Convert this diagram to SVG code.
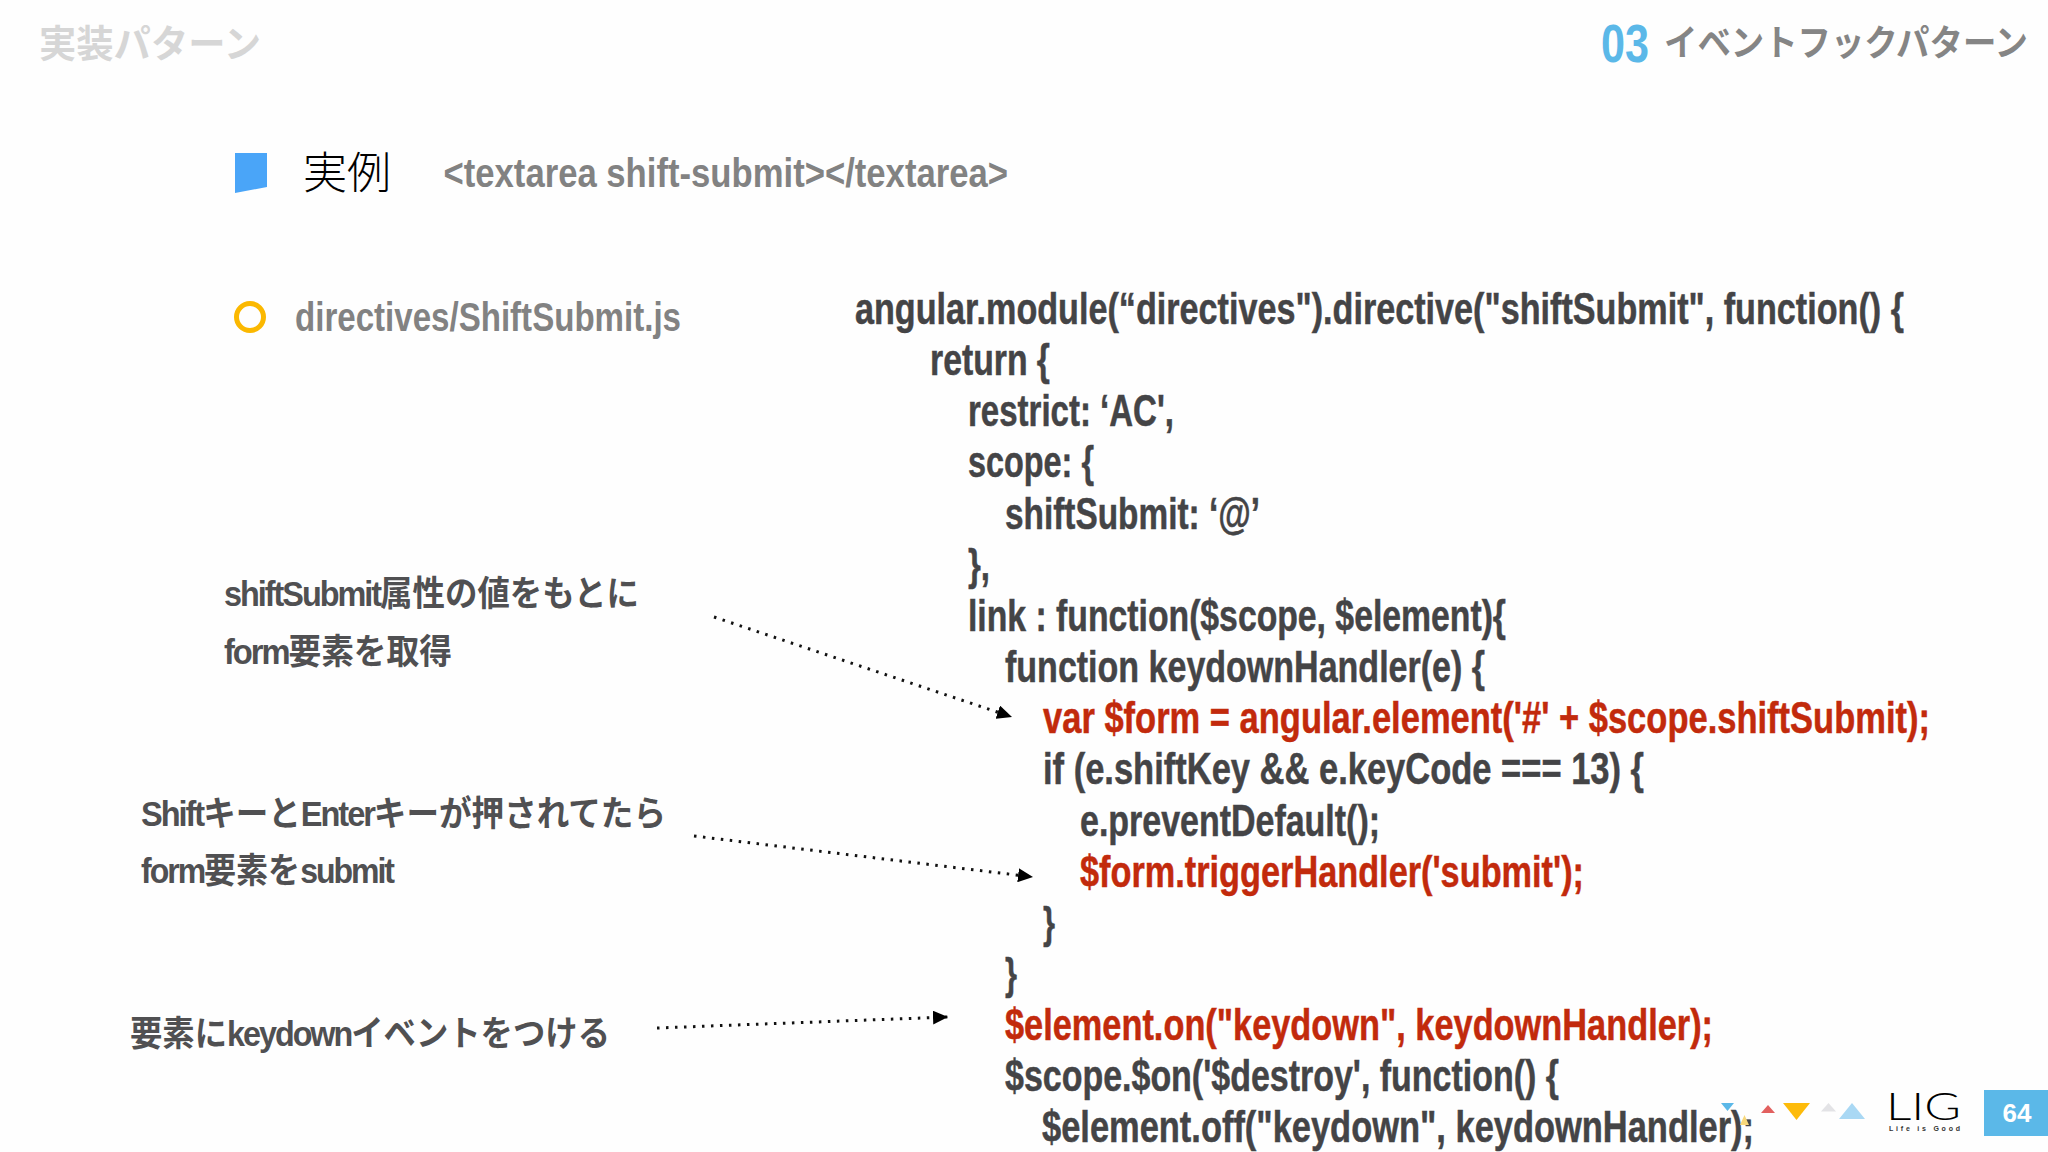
<svg xmlns="http://www.w3.org/2000/svg" width="2048" height="1152" viewBox="0 0 2048 1152">
<style>
text{font-family:"Liberation Sans","Noto Sans CJK JP",sans-serif;}
.code{font-size:45px;font-weight:700;fill:#444446;stroke:#444446;stroke-width:.5px;}
.red{fill:#c22a0c;stroke:#c22a0c;}
.lab{font-size:35px;font-weight:700;fill:#505052;}
.lat{letter-spacing:-2.2px;}
.sub{font-size:40px;font-weight:700;fill:#828282;}
.conn{fill:none;stroke:#111;stroke-width:3;stroke-dasharray:2.5 6.500;}
</style>
<defs>
<marker id="ah" markerUnits="userSpaceOnUse" markerWidth="16" markerHeight="14" refX="15" refY="7" orient="auto"><path d="M0 0L15 7L0 14Z" fill="#000"/></marker>
</defs>
<rect width="2048" height="1152" fill="#fefefe"/>
<g id="header">
<text x="39" y="57" font-size="38" font-weight="700" fill="#d6d6d6" textLength="222" lengthAdjust="spacingAndGlyphs">実装パターン</text>
<text x="1601" y="62" font-size="53" font-weight="700" fill="#5bb8e8" textLength="48" lengthAdjust="spacingAndGlyphs">03</text>
<text x="1664" y="56" font-size="36" font-weight="700" fill="#858585" textLength="364" lengthAdjust="spacingAndGlyphs" style="font-family:'Noto Sans CJK JP',sans-serif">イベントフックパターン</text>
</g>
<g id="heading">
<path d="M235 153H267V187L235 193Z" fill="#4aa5f8"/>
<text x="303" y="189" font-size="44" font-weight="300" fill="#000" style="font-family:'Noto Sans CJK JP',sans-serif">実例</text>
<text x="443.500" y="187" class="sub" textLength="564.500" lengthAdjust="spacingAndGlyphs">&lt;textarea shift-submit&gt;&lt;/textarea&gt;</text>
</g>
<g id="file">
<circle cx="250" cy="317" r="13.500" fill="none" stroke="#fbb800" stroke-width="5"/>
<text x="295" y="331" class="sub" textLength="386" lengthAdjust="spacingAndGlyphs">directives/ShiftSubmit.js</text>
</g>
<g id="code">
<text x="855" y="324" class="code" textLength="1049" lengthAdjust="spacingAndGlyphs">angular.module(“directives").directive("shiftSubmit", function() {</text>
<text x="930" y="375" class="code" textLength="120" lengthAdjust="spacingAndGlyphs">return {</text>
<text x="968" y="426" class="code" textLength="206" lengthAdjust="spacingAndGlyphs">restrict: ‘AC',</text>
<text x="968" y="477" class="code" textLength="126" lengthAdjust="spacingAndGlyphs">scope: {</text>
<text x="1005" y="529" class="code" textLength="255" lengthAdjust="spacingAndGlyphs">shiftSubmit: ‘@’</text>
<text x="968" y="580" class="code" textLength="22" lengthAdjust="spacingAndGlyphs">},</text>
<text x="968" y="631" class="code" textLength="538" lengthAdjust="spacingAndGlyphs">link : function($scope, $element){</text>
<text x="1005" y="682" class="code" textLength="480" lengthAdjust="spacingAndGlyphs">function keydownHandler(e) {</text>
<text x="1043" y="733" class="code red" textLength="887" lengthAdjust="spacingAndGlyphs">var $form = angular.element('#' + $scope.shiftSubmit);</text>
<text x="1043" y="784" class="code" textLength="601" lengthAdjust="spacingAndGlyphs">if (e.shiftKey &amp;&amp; e.keyCode === 13) {</text>
<text x="1080" y="836" class="code" textLength="300" lengthAdjust="spacingAndGlyphs">e.preventDefault();</text>
<text x="1080" y="887" class="code red" textLength="504" lengthAdjust="spacingAndGlyphs">$form.triggerHandler('submit');</text>
<text x="1043" y="938" class="code" textLength="12" lengthAdjust="spacingAndGlyphs">}</text>
<text x="1005" y="989" class="code" textLength="12" lengthAdjust="spacingAndGlyphs">}</text>
<text x="1005" y="1040" class="code red" textLength="708" lengthAdjust="spacingAndGlyphs">$element.on("keydown", keydownHandler);</text>
<text x="1005" y="1091" class="code" textLength="554" lengthAdjust="spacingAndGlyphs">$scope.$on('$destroy', function() {</text>
<text x="1042" y="1142" class="code" textLength="712" lengthAdjust="spacingAndGlyphs">$element.off("keydown", keydownHandler);</text>
</g>
<g id="note1">
<text x="224" y="606" class="lab" textLength="415" lengthAdjust="spacingAndGlyphs"><tspan class="lat">shiftSubmit</tspan>属性の値をもとに</text>
<text x="224" y="664" class="lab" textLength="228" lengthAdjust="spacingAndGlyphs"><tspan class="lat">form</tspan>要素を取得</text>
</g>
<g id="note2">
<text x="141" y="826" class="lab" textLength="525" lengthAdjust="spacingAndGlyphs"><tspan class="lat">Shift</tspan>キーと<tspan class="lat">Enter</tspan>キーが押されてたら</text>
<text x="141" y="883" class="lab" textLength="252" lengthAdjust="spacingAndGlyphs"><tspan class="lat">form</tspan>要素を<tspan class="lat">submit</tspan></text>
</g>
<g id="note3">
<text x="130" y="1046" class="lab" textLength="480" lengthAdjust="spacingAndGlyphs">要素に<tspan class="lat">keydown</tspan>イベントをつける</text>
</g>
<g id="connectors">
<path class="conn" d="M714 617L1012 717" marker-end="url(#ah)"/>
<path class="conn" d="M694 836L1033 877" marker-end="url(#ah)"/>
<path class="conn" d="M657 1028L948 1017" marker-end="url(#ah)"/>
</g>
<g id="footer">
<path d="M1721 1103H1734L1727.500 1111Z" fill="#5bb8e8"/>
<path d="M1744.500 1115L1749 1125H1740Z" fill="#f8d87a"/>
<path d="M1761 1113L1768 1105L1775 1113Z" fill="#e2605f"/>
<path d="M1783 1103H1810L1796.500 1120Z" fill="#fdbb0a"/>
<path d="M1821 1111.500L1828.500 1103L1836 1111.500Z" fill="#e3e3e6"/>
<path d="M1839 1119L1852 1103L1865 1119Z" fill="#a9d8f4"/>
<text x="1886" y="1120" font-size="37" font-weight="300" fill="#000" textLength="75" lengthAdjust="spacingAndGlyphs" style="font-family:Lato,sans-serif">LIG</text>
<text x="1889" y="1131" font-size="7" font-weight="700" fill="#333" textLength="71">Life is Good</text>
<rect x="1984" y="1090" width="64" height="46" fill="#5bb8e8"/>
<text x="2017" y="1122" font-size="26" font-weight="700" fill="#fff" text-anchor="middle">64</text>
</g>
</svg>
